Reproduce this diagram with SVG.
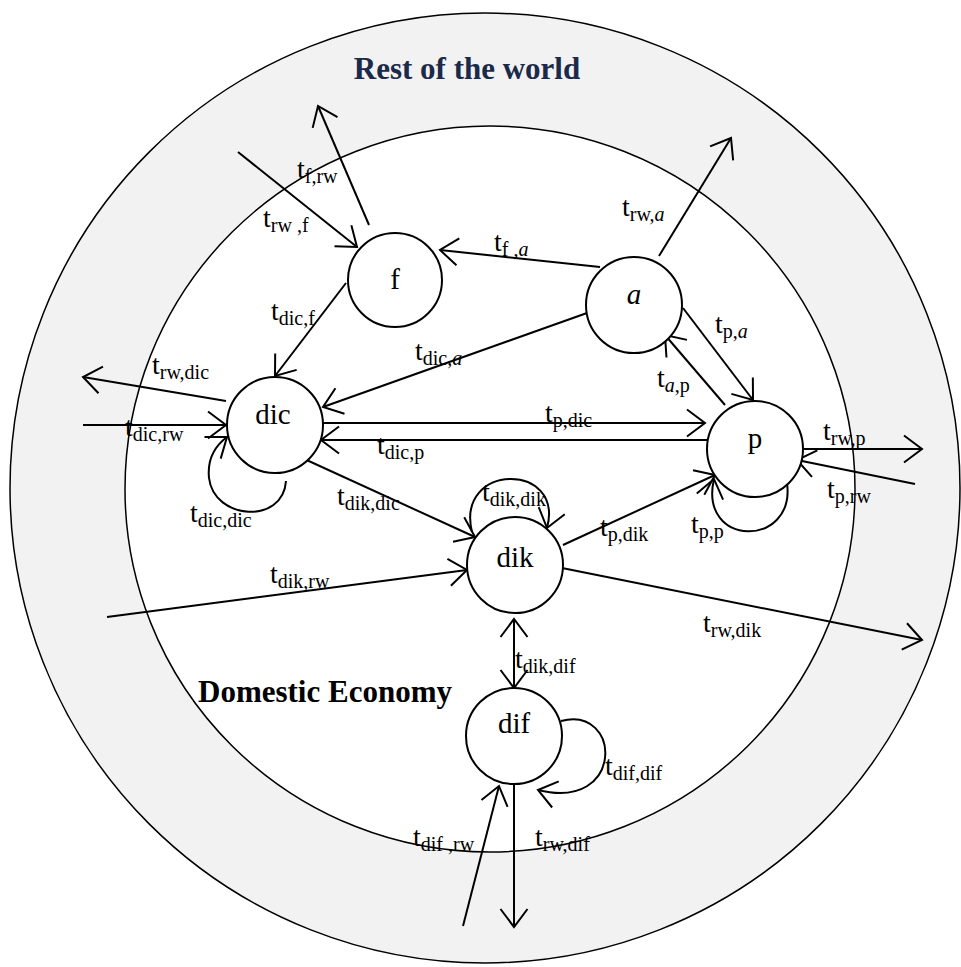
<svg xmlns="http://www.w3.org/2000/svg" width="961" height="967" viewBox="0 0 961 967">
<style>
.ring{stroke:#000;stroke-width:1.5}
.node circle{fill:#fff;stroke:#000;stroke-width:2}
.nl{font-family:"Liberation Serif",serif;font-size:29px;text-anchor:middle;fill:#000}
.lb{font-family:"Liberation Serif",serif;font-size:28px;fill:#000}
.s{font-size:20px}
.i{font-style:italic}
.edges path,.edges line{fill:none;stroke:#000;stroke-width:2}
.title{font-family:"Liberation Serif",serif;font-weight:bold;font-size:31px}
</style>
<defs>
<marker id="ah" markerUnits="userSpaceOnUse" markerWidth="40" markerHeight="40" refX="18" refY="13.5" orient="auto-start-reverse" overflow="visible">
<path d="M0,0 L18,13.5 L0,27" fill="none" stroke="#000" stroke-width="2"/>
</marker>
</defs>
<rect width="961" height="967" fill="#fff"/>
<ellipse class="ring" cx="485" cy="488" rx="475" ry="475" fill="#f2f2f2"/>
<ellipse class="ring" cx="490" cy="489" rx="365" ry="363" fill="#fff"/>
<text class="title" x="467" y="79" text-anchor="middle" fill="#1b2a48">Rest of the world</text>
<text class="title" x="198" y="702" fill="#000" font-size="30.5">Domestic Economy</text>

<g class="edges" id="connectors">
<line x1="369" y1="225" x2="318" y2="106" marker-end="url(#ah)"/>
<line x1="238" y1="152" x2="357" y2="247" marker-end="url(#ah)"/>
<line x1="600" y1="267" x2="440" y2="250" marker-end="url(#ah)"/>
<line x1="659" y1="256" x2="731" y2="138" marker-end="url(#ah)"/>
<line x1="346" y1="283" x2="275" y2="376" marker-end="url(#ah)"/>
<line x1="587" y1="313" x2="323" y2="407" marker-end="url(#ah)"/>
<line x1="322" y1="423" x2="705" y2="423" marker-end="url(#ah)"/>
<line x1="707" y1="440" x2="321" y2="440" marker-end="url(#ah)"/>
<line x1="226" y1="401" x2="83" y2="377" marker-end="url(#ah)"/>
<line x1="83" y1="425" x2="226" y2="425" marker-end="url(#ah)"/>
<path d="M286 481 C283 525 214 520 209 478 C207 458 215 446 227 437" marker-end="url(#ah)"/>
<line x1="300" y1="457" x2="475" y2="537" marker-end="url(#ah)"/>
<path d="M472 532 C455 462 565 462 547 528" marker-end="url(#ah)"/>
<line x1="563" y1="545" x2="715" y2="475" marker-end="url(#ah)"/>
<path d="M787 483 C796 548 698 548 714 479" marker-end="url(#ah)"/>
<line x1="725" y1="405" x2="665" y2="335" marker-end="url(#ah)"/>
<line x1="683" y1="308" x2="753" y2="400" marker-end="url(#ah)"/>
<line x1="803" y1="449" x2="922" y2="449" marker-end="url(#ah)"/>
<line x1="915" y1="484" x2="797" y2="460" marker-end="url(#ah)"/>
<line x1="107" y1="617" x2="467" y2="570" marker-end="url(#ah)"/>
<line x1="562" y1="568" x2="922" y2="640" marker-end="url(#ah)"/>
<line x1="514" y1="619" x2="514" y2="688" marker-start="url(#ah)" marker-end="url(#ah)"/>
<path d="M561 721 C622 705 625 812 538 790" marker-end="url(#ah)"/>
<line x1="463" y1="926" x2="499" y2="786" marker-end="url(#ah)"/>
<line x1="514" y1="785" x2="514" y2="927" marker-end="url(#ah)"/>
</g>

<g id="node-f" class="node"><circle cx="395" cy="280" r="47"/><text class="nl" x="395" y="289">f</text></g>
<g id="node-a" class="node"><circle cx="634" cy="305" r="48"/><text class="nl i" x="634" y="304">a</text></g>
<g id="node-dic" class="node"><circle cx="275" cy="425" r="48"/><text class="nl" x="273" y="424">dic</text></g>
<g id="node-p" class="node"><circle cx="755" cy="449" r="48"/><text class="nl" x="755" y="448">p</text></g>
<g id="node-dik" class="node"><circle cx="515" cy="565" r="48"/><text class="nl" x="515" y="567">dik</text></g>
<g id="node-dif" class="node"><circle cx="514" cy="736" r="48"/><text class="nl" x="514" y="733">dif</text></g>

<g id="labels">
<text class="lb" x="297" y="178">t<tspan class="s" dy="5">f,rw</tspan></text>
<text class="lb" x="263" y="227">t<tspan class="s" dy="5">rw ,f</tspan></text>
<text class="lb" x="271" y="320">t<tspan class="s" dy="5">dic,f</tspan></text>
<text class="lb" x="494" y="251">t<tspan class="s" dy="5">f ,<tspan class="i">a</tspan></tspan></text>
<text class="lb" x="622" y="216">t<tspan class="s" dy="5">rw,<tspan class="i">a</tspan></tspan></text>
<text class="lb" x="415" y="360">t<tspan class="s" dy="5">dic,<tspan class="i">a</tspan></tspan></text>
<text class="lb" x="715" y="333">t<tspan class="s" dy="5">p,<tspan class="i">a</tspan></tspan></text>
<text class="lb" x="657" y="387">t<tspan class="s" dy="5"><tspan class="i">a</tspan>,p</tspan></text>
<text class="lb" x="152" y="374">t<tspan class="s" dy="5">rw,dic</tspan></text>
<text class="lb" x="125" y="436">t<tspan class="s" dy="5">dic,rw</tspan></text>
<text class="lb" x="190" y="522">t<tspan class="s" dy="5">dic,dic</tspan></text>
<text class="lb" x="545" y="422">t<tspan class="s" dy="5">p,dic</tspan></text>
<text class="lb" x="377" y="454">t<tspan class="s" dy="5">dic,p</tspan></text>
<text class="lb" x="337" y="505">t<tspan class="s" dy="5">dik,dic</tspan></text>
<text class="lb" x="482" y="501">t<tspan class="s" dy="5">dik,dik</tspan></text>
<text class="lb" x="600" y="536">t<tspan class="s" dy="5">p,dik</tspan></text>
<text class="lb" x="691" y="533">t<tspan class="s" dy="5">p,p</tspan></text>
<text class="lb" x="823" y="440">t<tspan class="s" dy="5">rw,p</tspan></text>
<text class="lb" x="827" y="498">t<tspan class="s" dy="5">p,rw</tspan></text>
<text class="lb" x="270" y="583">t<tspan class="s" dy="5">dik,rw</tspan></text>
<text class="lb" x="703" y="632">t<tspan class="s" dy="5">rw,dik</tspan></text>
<text class="lb" x="515" y="668">t<tspan class="s" dy="5">dik,dif</tspan></text>
<text class="lb" x="605" y="775">t<tspan class="s" dy="5">dif,dif</tspan></text>
<text class="lb" x="413" y="846">t<tspan class="s" dy="5">dif ,rw</tspan></text>
<text class="lb" x="535" y="846">t<tspan class="s" dy="5">rw,dif</tspan></text>
</g>
</svg>
